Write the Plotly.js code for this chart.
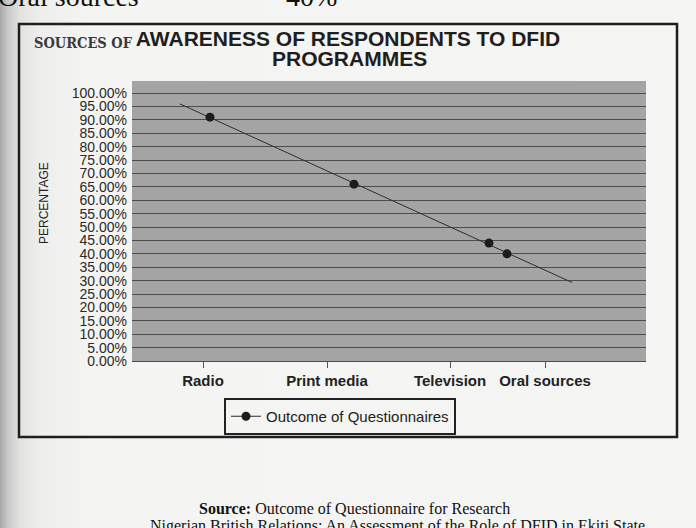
<!DOCTYPE html>
<html>
<head>
<meta charset="utf-8">
<script src="https://cdn.plot.ly/plotly-3.0.1.min.js"></script>
<style>
  html, body { margin: 0; padding: 0; }
  body {
    width: 696px; height: 528px; overflow: hidden;
    background: linear-gradient(to right, #a8a8a8 0px, #c6c6c6 7px, #e2e2e0 20px, #eeeeec 40px, #f4f4f2 90px, #f5f5f3 100%);
  }
  #chart { width: 696px; height: 528px; }
</style>
</head>
<body>
<div id="chart"></div>
<script>
// ---- data ----
const categories = ['Radio', 'Print media', 'Television', 'Oral sources'];
const categoryTickPos = [0.71, 1.95, 3.18, 4.13];   // x-axis units
const pointPos = [0.78, 2.22, 3.57, 3.75];          // x position of each marker
const values = [91, 66, 44, 40];                    // percentage of respondents
const trendExtent = [0.48, 4.40];                   // x span of the linear trendline
const yTickValues = [0,5,10,15,20,25,30,35,40,45,50,55,60,65,70,75,80,85,90,95,100];
const seriesName = 'Outcome of Questionnaires';

// ---- linear trendline (least squares) from the data ----
const n = values.length;
const mx = pointPos.reduce((a, b) => a + b, 0) / n;
const my = values.reduce((a, b) => a + b, 0) / n;
let sxy = 0, sxx = 0;
for (let i = 0; i < n; i++) { sxy += (pointPos[i] - mx) * (values[i] - my); sxx += (pointPos[i] - mx) ** 2; }
const slope = sxy / sxx, intercept = my - slope * mx;
const trendY = trendExtent.map(x => intercept + slope * x);

// markers separated by gaps so that the legend shows line + marker but points are not joined
const gx = [], gy = [];
pointPos.forEach((x, i) => { gx.push(x, null); gy.push(values[i], null); });

// ---- layout helpers (pixel -> paper) ----
const L = 132, R = 646, T = 81, B = 361;
const px = x => (x - L) / (R - L);
const py = y => (B - y) / (B - T);

const traces = [
  {
    x: trendExtent, y: trendY, mode: 'lines', type: 'scatter',
    line: { color: '#2e2e2e', width: 1 }, showlegend: false, hoverinfo: 'skip'
  },
  {
    x: gx, y: gy, mode: 'lines+markers', type: 'scatter', name: seriesName,
    connectgaps: false,
    line: { color: '#2a2a2a', width: 1 },
    marker: { color: '#1c1c1c', size: 9, symbol: 'circle' }
  }
];

const layout = {
  width: 696, height: 528,
  paper_bgcolor: 'rgba(0,0,0,0)',
  plot_bgcolor: '#a4a4a4',
  margin: { l: L, r: 696 - R, t: T, b: 528 - B, pad: 0 },
  font: { family: 'Liberation Sans, Arial, sans-serif', color: '#222' },
  title: {
    text: 'AWARENESS OF RESPONDENTS TO DFID',
    font: { family: 'Liberation Sans, Arial, sans-serif', size: 21, weight: 'bold', color: '#1e1e1e' },
    xref: 'container', yref: 'container',
    x: 348 / 696, xanchor: 'center',
    y: 1 - 39 / 528, yanchor: 'middle'
  },
  xaxis: {
    type: 'linear', range: [0, (R - L) / 100],
    tickmode: 'array', tickvals: categoryTickPos,
    ticktext: categories.map(c => '<b>' + c + '</b>'),
    tickfont: { size: 15, color: '#222' },
    ticks: 'outside', ticklen: 6, tickcolor: '#555', tickwidth: 1,
    showgrid: false, zeroline: false, showline: false, fixedrange: true
  },
  yaxis: {
    range: [0, 104.5],
    tickmode: 'array', tickvals: yTickValues,
    ticktext: yTickValues.map(v => v.toFixed(2) + '%'),
    tickfont: { size: 14, color: '#2a2a2a' },
    ticks: '', ticklabelstandoff: 4,
    showgrid: true, gridcolor: '#4c4c4c', gridwidth: 1,
    zeroline: true, zerolinecolor: '#4c4c4c', zerolinewidth: 1,
    showline: false, fixedrange: true
  },
  legend: {
    x: px(224), y: py(398), xanchor: 'left', yanchor: 'top',
    bgcolor: 'rgba(0,0,0,0)', bordercolor: '#222', borderwidth: 2,
    font: { size: 15, color: '#222' }
  },
  shapes: [
    { type: 'rect', xref: 'paper', yref: 'paper',
      x0: px(19), x1: px(677), y0: py(24), y1: py(437),
      line: { color: '#1e1e1e', width: 2.5 }, fillcolor: 'rgba(0,0,0,0)' }
  ],
  annotations: [
    { text: 'SOURCES OF', xref: 'paper', yref: 'paper', x: px(32), y: py(42),
      xanchor: 'left', yanchor: 'middle', showarrow: false,
      font: { family: 'DejaVu Serif Condensed, Liberation Serif, serif', size: 14.5, weight: 'bold', color: '#3a3a3a' } },
    { text: 'PROGRAMMES', xref: 'paper', yref: 'paper', x: px(349), y: py(58),
      xanchor: 'center', yanchor: 'middle', showarrow: false,
      font: { family: 'Liberation Sans, Arial, sans-serif', size: 21, weight: 'bold', color: '#1e1e1e' } },
    { text: 'PERCENTAGE', xref: 'paper', yref: 'paper', x: px(44), y: py(203),
      xanchor: 'center', yanchor: 'middle', textangle: -90, showarrow: false,
      font: { family: 'Liberation Sans Narrow, Liberation Sans, Arial, sans-serif', size: 12, color: '#222' } },
    { text: 'Oral sources', xref: 'paper', yref: 'paper', x: px(-4), y: py(-3),
      xanchor: 'left', yanchor: 'middle', showarrow: false,
      font: { family: 'Liberation Serif, Times New Roman, serif', size: 28, color: '#111' } },
    { text: '40%', xref: 'paper', yref: 'paper', x: px(284), y: py(-3),
      xanchor: 'left', yanchor: 'middle', showarrow: false,
      font: { family: 'Liberation Serif, Times New Roman, serif', size: 28, color: '#111' } },
    { text: '<b>Source:</b> Outcome of Questionnaire for Research', xref: 'paper', yref: 'paper',
      x: px(354), y: py(508), xanchor: 'center', yanchor: 'middle', showarrow: false,
      font: { family: 'Liberation Serif, Times New Roman, serif', size: 16, color: '#111' } },
    { text: 'Nigerian British Relations: An Assessment of the Role of DFID in Ekiti State', xref: 'paper', yref: 'paper',
      x: px(148), y: py(526), xanchor: 'left', yanchor: 'middle', showarrow: false,
      font: { family: 'Liberation Serif, Times New Roman, serif', size: 16, color: '#111' } }
  ]
};

Plotly.newPlot('chart', traces, layout, { displayModeBar: false, staticPlot: true });
</script>
</body>
</html>
